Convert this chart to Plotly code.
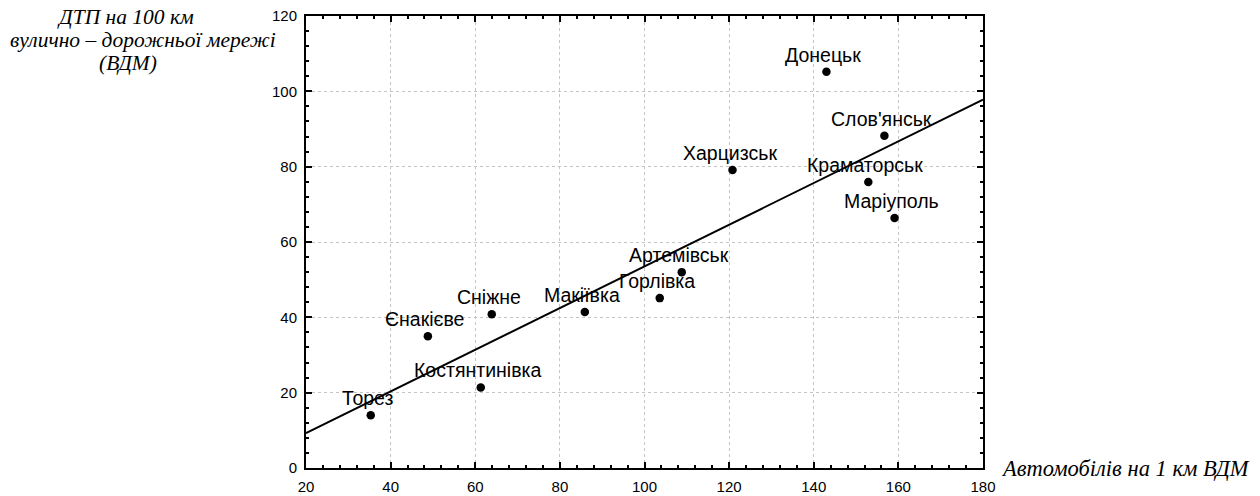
import numpy as np
import plotly.graph_objects as go

# Cities of Donetsk oblast: vehicles per 1 km of street-road network vs. accidents per 100 km
cities = ["Торез", "Костянтинівка", "Єнакієве", "Сніжне", "Макіївка", "Горлівка",
          "Артемівськ", "Харцизськ", "Донецьк", "Слов'янськ", "Краматорськ", "Маріуполь"]
cars_per_km = [35.3, 61.3, 48.8, 63.9, 85.9, 103.6, 108.8, 120.8, 143.0, 156.7, 152.9, 159.1]
accidents_per_100km = [14.0, 21.4, 35.0, 40.8, 41.4, 45.1, 52.0, 79.1, 105.2, 88.2, 75.9, 66.4]

x_ticks = [20, 40, 60, 80, 100, 120, 140, 160, 180]
y_ticks = [0, 20, 40, 60, 80, 100, 120]

y_title_lines = ["ДТП на 100 км", "вулично – дорожньої мережі", "(ВДМ)"]
x_title = "Автомобілів на 1 км ВДМ"

# least-squares straight line through the points
slope, intercept = np.polyfit(cars_per_km, accidents_per_100km, 1)
fit_x = np.array([x_ticks[0], x_ticks[-1]])
fit_y = intercept + slope * fit_x

fig = go.Figure()
fig.add_trace(go.Scatter(x=fit_x, y=fit_y, mode="lines",
                         line=dict(color="black", width=2), hoverinfo="skip"))
fig.add_trace(go.Scatter(x=cars_per_km, y=accidents_per_100km, mode="markers",
                         marker=dict(color="black", size=8.5), text=cities))

for name, xv, yv in zip(cities, cars_per_km, accidents_per_100km):
    fig.add_annotation(x=xv, y=yv, text=name, showarrow=False,
                       xshift=-3, yshift=17,
                       font=dict(family="Liberation Sans, Arial", size=19.5, color="black"))

# multi-line y-axis caption in the upper-left corner
serif_y = dict(family="Liberation Serif, Times New Roman", size=21.5, color="black")
for txt, px, py in zip(y_title_lines, [-0.3708, -0.4402, -0.3087], [0.9978, 0.9479, 0.8970]):
    fig.add_annotation(xref="paper", yref="paper", x=px, y=py, text=f"<i>{txt}</i>",
                       showarrow=False, xanchor="left", yanchor="middle", font=serif_y)
serif_x = dict(family="Liberation Serif, Times New Roman", size=22.5, color="black")
fig.add_annotation(xref="paper", yref="paper", x=1.0236, y=0.0, text=f"<i>{x_title}</i>",
                   showarrow=False, xanchor="left", yanchor="middle", font=serif_x)

axis_common = dict(
    automargin=False,
    showline=True, linecolor="black", linewidth=2, mirror="allticks",
    ticks="inside", ticklen=6, tickwidth=2, tickcolor="black",
    showgrid=True, gridcolor="#c4c4c4", griddash="dot", gridwidth=1,
    zeroline=False,
    tickfont=dict(family="Liberation Sans, Arial", size=15, color="black"),
    minor=dict(ticks="inside", ticklen=3, tickwidth=2, tickcolor="black",
               dtick=4, showgrid=False),
)

fig.update_xaxes(range=[x_ticks[0], x_ticks[-1]], tickvals=x_ticks,
                 ticklabelstandoff=4, **axis_common)
fig.update_yaxes(range=[y_ticks[0], y_ticks[-1]], tickvals=y_ticks,
                 ticklabelstandoff=4, **axis_common)

fig.update_layout(
    template="none",
    width=1260, height=496,
    margin=dict(l=306, r=277, t=16, b=28),
    plot_bgcolor="white", paper_bgcolor="white",
    showlegend=False,
)

fig.write_html("out.html")
